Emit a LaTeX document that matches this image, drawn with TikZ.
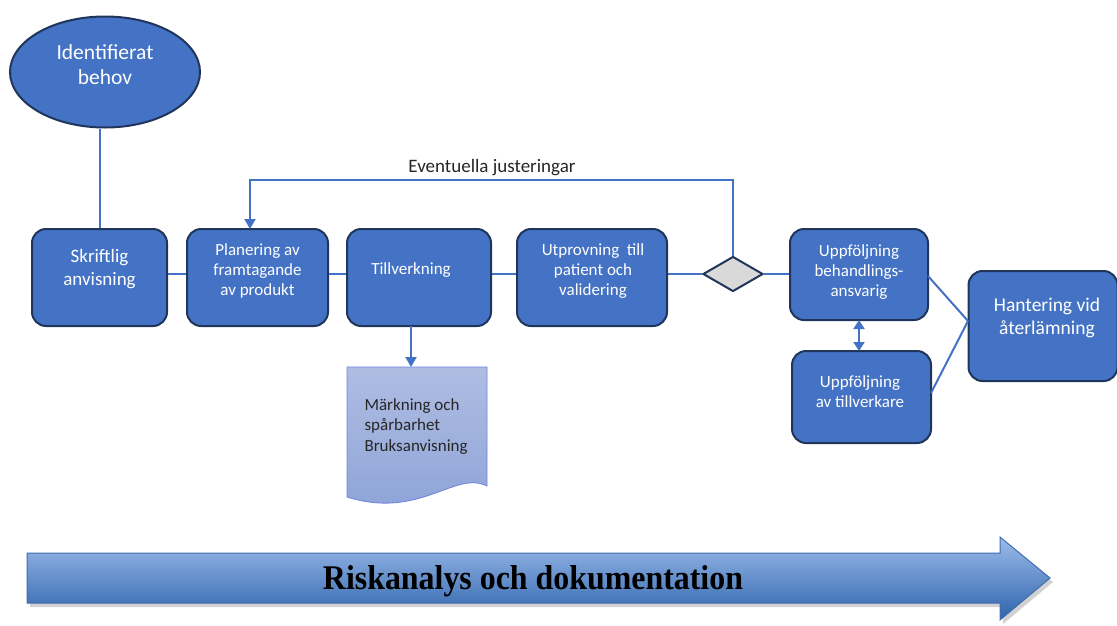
\documentclass[tikz,border=0pt]{standalone}
\usepackage{fontspec}
\setmainfont{Carlito}
\newfontfamily\serifbold{Liberation Serif}
\usetikzlibrary{arrows.meta,shapes.geometric,calc}
\definecolor{boxblue}{HTML}{4472C4}
\definecolor{boxedge}{HTML}{1F3559}
\definecolor{linkblue}{HTML}{4472C4}
\definecolor{docA}{HTML}{AFBDE3}
\definecolor{docB}{HTML}{8CA2D6}
\definecolor{arrA}{HTML}{9CBCEB}
\definecolor{arrB}{HTML}{2E63AB}
\definecolor{arredge}{HTML}{3E6DAF}
\tikzset{
  procbox/.style={draw=boxedge, line width=2pt, fill=boxblue, rounded corners=14pt, text=white, align=center, inner sep=0pt},
  link/.style={draw=linkblue, line width=2pt},
  tip/.style={-{Triangle[width=11pt,length=10pt]}},
  boxtext/.style={text=white, align=center, font=\fontsize{17}{20.3}\selectfont},
}
\begin{document}
\begin{tikzpicture}[x=1pt,y=-1pt]
\useasboundingbox (0,0) rectangle (1117,625);
% ellipse
\node[ellipse, draw=boxedge, line width=2pt, fill=boxblue, minimum width=190pt, minimum height=111pt, inner sep=0pt] (need) at (105,72) {};
\node[text=white, align=center, font=\fontsize{21.5}{25}\selectfont] at (105,65) {Identifierat\\behov};
% process boxes
\node[procbox, minimum width=135pt, minimum height=97pt] (skr) at (99.5,277.5) {};
\node[text=white, align=center, font=\fontsize{19}{23}\selectfont] at (99.5,269) {Skriftlig\\anvisning};
\node[procbox, minimum width=141pt, minimum height=97pt] (plan) at (257.5,277.5) {};
\node[boxtext] at (257.5,271) {Planering av\\framtagande\\av produkt};
\node[procbox, minimum width=144pt, minimum height=97pt] (till) at (419,277.5) {};
\node[boxtext] at (411,270) {Tillverkning};
\node[procbox, minimum width=150pt, minimum height=97pt] (utp) at (592,277.5) {};
\node[boxtext] at (593,271) {Utprovning\ \ till\\patient och\\validering};
% diamond
\node[diamond, draw=boxedge, line width=2pt, fill=gray!30, minimum width=60pt, minimum height=35pt, inner sep=0pt, aspect=1.7] (dia) at (733,274) {};
% follow-up boxes
\node[procbox, minimum width=138pt, minimum height=91pt] (upp1) at (859,274.5) {};
\node[boxtext] at (859,272) {Uppföljning\\behandlings-\\ansvarig};
\node[procbox, minimum width=139pt, minimum height=92pt] (upp2) at (861.5,397) {};
\node[boxtext] at (860,392) {Uppföljning\\av tillverkare};
\node[procbox, minimum width=149pt, minimum height=110pt] (hant) at (1043,326) {};
\node[text=white, align=center, font=\fontsize{19.5}{23}\selectfont] at (1047,318) {Hantering vid\\återlämning};
% document shape
\coordinate (docTop) at (411,367);
\path[top color=docA, bottom color=docB, draw=docB!80!blue, line width=0.8pt]
  (347,367) -- (487,367) -- (487,486) .. controls (455,470) and (420,520) .. (347,497) -- cycle;
\node[text=black!85, align=left, anchor=north west, font=\fontsize{17}{20.5}\selectfont] (doc) at (361,395) {Märkning och\\spårbarhet\\Bruksanvisning};
% connectors
\draw[link] (skr.north |- need.south) -- (skr.north);
\draw[link] (skr.east |- dia) -- (plan.west |- dia);
\draw[link] (plan.east |- dia) -- (till.west |- dia);
\draw[link] (till.east |- dia) -- (utp.west |- dia);
\draw[link] (utp.east |- dia) -- (dia.west);
\draw[link] (dia.east) -- (upp1.west |- dia);
\draw[link, tip] (dia.north) -- (733,180) -- (250,180) -- (250,229);
\node[font=\fontsize{19}{22}\selectfont, text=black!85] (adj) at (492,168) {Eventuella justeringar};
\draw[link, tip] (411,326) -- (docTop);
\draw[link, {Triangle[width=11pt,length=9pt]}-{Triangle[width=11pt,length=9pt]}] (859,320) -- (859,351);
\coordinate (hin) at (968,321);
\draw[link] (928,276) -- (hin);
\draw[link] (931,393) -- (hin);
% big arrow
\fill[black, opacity=0.18] (30,557) -- (1003,557) -- (1003,541) -- (1053,582) -- (1003,624) -- (1003,607) -- (30,607) -- cycle;
\path[top color=arrA, bottom color=arrB, draw=arredge, line width=1pt]
  (27,553) -- (1000,553) -- (1000,537) -- (1050,578) -- (1000,620) -- (1000,603) -- (27,603) -- cycle;
\node (risk) at (533,581) {\resizebox{420pt}{24pt}{\serifbold\bfseries Riskanalys och dokumentation}};
\end{tikzpicture}
\end{document}
